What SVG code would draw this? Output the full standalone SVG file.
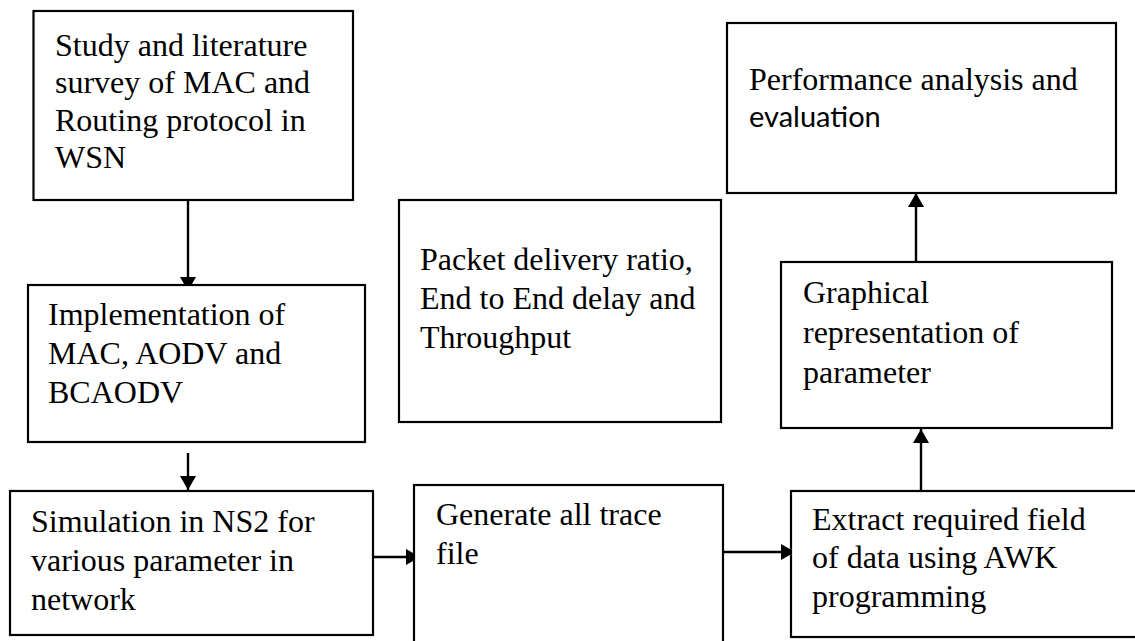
<svg xmlns="http://www.w3.org/2000/svg" width="1135" height="641" viewBox="0 0 1135 641">
<style>
.box{fill:#fff;stroke:#000;stroke-width:2.2}
.t{font-family:"Liberation Serif","Times New Roman",serif;font-size:32px;fill:#000}
.s{font-family:Lato,"Liberation Sans",sans-serif;font-size:29px;fill:#000}
.c{stroke:#000;stroke-width:2.4;fill:none;marker-end:url(#ah)}
</style>
<defs>
<marker id="ah" markerUnits="userSpaceOnUse" markerWidth="14" markerHeight="16" refX="14" refY="8" orient="auto">
<path d="M0,0 L14,8 L0,16 Z" fill="#000"/>
</marker>
</defs>
<rect width="1135" height="641" fill="#fff"/>
<g id="connectors">
<line class="c" x1="188" y1="200" x2="188" y2="291"/>
<line class="c" x1="188" y1="453" x2="188" y2="490"/>
<line class="c" x1="373" y1="557" x2="420" y2="557"/>
<line class="c" x1="719" y1="552" x2="795" y2="552"/>
<line class="c" x1="921" y1="491" x2="921" y2="429"/>
<line class="c" x1="916" y1="262" x2="916" y2="193"/>
</g>
<g id="n1">
<rect class="box" x="33.5" y="11" width="319.5" height="189"/>
<text class="t" x="55" y="56">Study and literature</text>
<text class="t" x="55" y="93">survey of MAC and</text>
<text class="t" x="55" y="131">Routing protocol in</text>
<text class="t" x="55" y="168">WSN</text>
</g>
<g id="n2">
<rect class="box" x="28" y="285" width="337" height="157"/>
<text class="t" x="48" y="325">Implementation of</text>
<text class="t" x="48" y="364">MAC, AODV and</text>
<text class="t" x="48" y="403">BCAODV</text>
</g>
<g id="n3">
<rect class="box" x="10" y="491" width="363" height="144"/>
<text class="t" x="31" y="532">Simulation in NS2 for</text>
<text class="t" x="31" y="571">various parameter in</text>
<text class="t" x="31" y="610">network</text>
</g>
<g id="n4">
<rect class="box" x="399" y="200" width="322" height="222"/>
<text class="t" x="420" y="270">Packet delivery ratio,</text>
<text class="t" x="420" y="309">End to End delay and</text>
<text class="t" x="420" y="348">Throughput</text>
</g>
<g id="n5">
<rect class="box" x="414" y="485" width="309" height="170"/>
<text class="t" x="436" y="525">Generate all trace</text>
<text class="t" x="436" y="564">file</text>
</g>
<g id="n6">
<rect class="box" x="791" y="491" width="360" height="146"/>
<text class="t" x="812" y="530">Extract required field</text>
<text class="t" x="812" y="568">of data using AWK</text>
<text class="t" x="812" y="607">programming</text>
</g>
<g id="n7">
<rect class="box" x="781" y="262" width="331" height="166"/>
<text class="t" x="803" y="303">Graphical</text>
<text class="t" x="803" y="343">representation of</text>
<text class="t" x="803" y="383">parameter</text>
</g>
<g id="n8">
<rect class="box" x="727" y="23" width="389" height="170"/>
<text class="t" x="749" y="90">Performance analysis and</text>
<text class="s" x="749" y="127">evaluation</text>
</g>
</svg>
